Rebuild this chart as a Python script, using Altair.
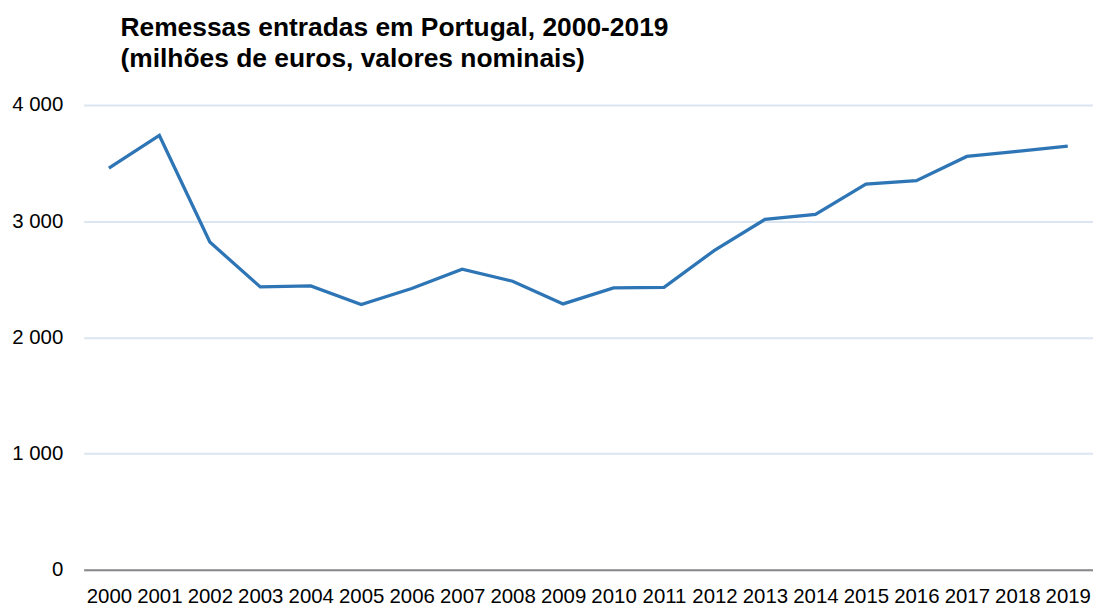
import altair as alt
import pandas as pd

years = [str(y) for y in range(2000, 2020)]
values = [3456, 3737, 2820, 2434, 2443, 2283, 2420, 2586, 2483, 2288,
          2425, 2431, 2749, 3015, 3058, 3319, 3348, 3557, 3600, 3645]

df = pd.DataFrame({"ano": years, "valor": values})

FONT = "Liberation Sans"

chart = alt.Chart(df).mark_line(color="#2e75b6", strokeWidth=3.3).encode(
    x=alt.X("ano:N", sort=years, title=None,
            scale=alt.Scale(paddingInner=0, paddingOuter=0),
            axis=alt.Axis(labelAngle=0, ticks=False, domain=True, domainColor="#898989",
                          domainWidth=2, labelFontSize=20.5, labelFont=FONT,
                          labelColor="#000000", labelPadding=17, grid=False)),
    y=alt.Y("valor:Q", title=None,
            scale=alt.Scale(domain=[0, 4000]),
            axis=alt.Axis(values=[0, 1000, 2000, 3000, 4000], ticks=False, domain=False,
                          labelExpr="replace(format(datum.value, ','), ',', ' ')",
                          labelFontSize=20.5, labelFont=FONT, labelColor="#000000",
                          labelPadding=21, gridColor="#dce6f2", gridWidth=2)),
).properties(
    width=1014,
    height=467,
    padding={"left": 76, "top": 96, "right": 0, "bottom": 35},
    autosize=alt.AutoSizeParams(type="none"),
    title=alt.TitleParams(
        ["Remessas entradas em Portugal, 2000-2019", "(milhões de euros, valores nominais)"],
        anchor="start", frame="group", dx=37, offset=2, fontSize=26.5, font=FONT,
        fontWeight="bold", color="#000000", lineHeight=31, baseline="alphabetic",
    ),
).configure_view(stroke=None)

chart.save("out.html", embed_options={"renderer": "svg", "actions": False})
